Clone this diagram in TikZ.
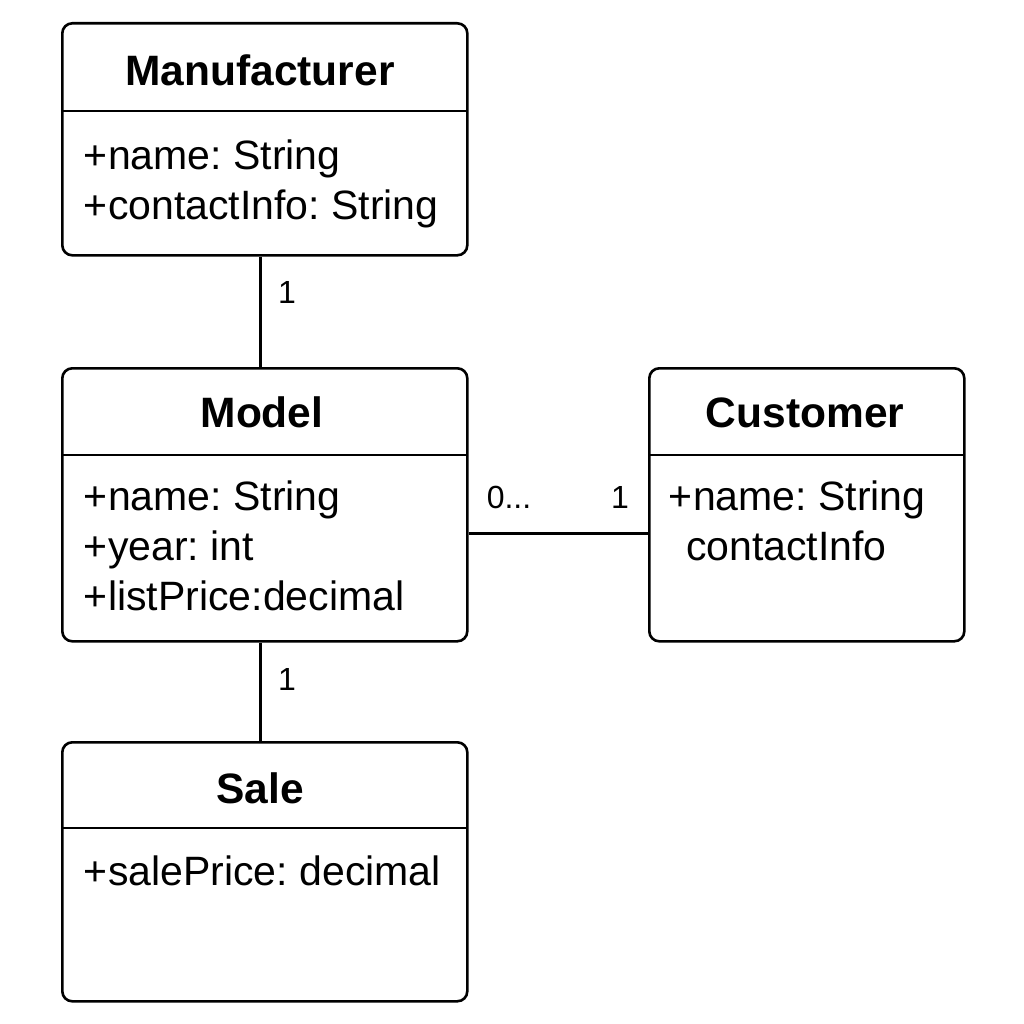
\documentclass[tikz,border=0pt]{standalone}
\usepackage{fontspec}
\setmainfont{Liberation Sans}
\frenchspacing
\begin{document}
\begin{tikzpicture}[x=1pt,y=-1pt,
  box/.style={draw, line width=2.6pt, rounded corners=10pt, inner sep=0pt, anchor=north west},
  divider/.style={line width=2.6pt},
  title/.style={font=\fontsize{42.5}{50}\selectfont\bfseries, anchor=base, inner sep=0pt},
  attr/.style={font=\fontsize{41}{50}\selectfont, anchor=base west, inner sep=0pt},
  mult/.style={font=\fontsize{32}{38}\selectfont, anchor=base, inner sep=0pt},
  conn/.style={line width=2.4pt}]
\useasboundingbox (0,0) rectangle (1024,1024);
\fill[white] (0,0) rectangle (1024,1024);

% Manufacturer
\node[box, minimum width=405pt, minimum height=232pt] (man) at (61,22) {};
\draw[divider] (61,111) -- (466,111);
\node[title] (mant) at (260,86) {Manufacturer};
\node[attr] (mana1) at (83,170) {+\kern1pt name: String};
\node[attr] (mana2) at (83,220) {+\kern1pt contactInfo: String};

% Model
\node[box, minimum width=405pt, minimum height=273pt] (model) at (61,367) {};
\draw[divider] (61,455) -- (466,455);
\node[title] (modelt) at (262,427) {Model};
\node[attr] (modela1) at (83,510) {+\kern1pt name: String};
\node[attr] (modela2) at (83,560) {+\kern1pt year: int};
\node[attr] (modela3) at (83,610) {+\kern1pt listPrice:decimal};

% Customer
\node[box, minimum width=315pt, minimum height=273pt] (cust) at (648,367) {};
\draw[divider] (648,455) -- (963,455);
\node[title] (custt) at (805,427) {Customer};
\node[attr] (custa1) at (668,510) {+\kern1pt name: String};
\node[attr] (custa2) at (686,560) {contactInfo};

% Sale
\node[box, minimum width=405pt, minimum height=259pt] (sale) at (61,741) {};
\draw[divider] (61,828) -- (466,828);
\node[title] (salet) at (260,803) {Sale};
\node[attr] (salea1) at (83,885) {+\kern1pt salePrice: decimal};

% Connectors
\draw[conn] ([xshift=-4.5pt]man.south) -- ([xshift=-4.5pt]model.north);
\draw[conn] ([xshift=-4.5pt]model.south) -- ([xshift=-4.5pt]sale.north);
\draw[conn] ([yshift=-28.5pt]model.east) -- ([yshift=-28.5pt]cust.west);

% Multiplicities
\node[mult] (m1) at (287,303) {1};
\node[mult] (m2) at (287,690) {1};
\node[mult] (m3) at (509,508) {0...};
\node[mult] (m4) at (620,508) {1};
\end{tikzpicture}
\end{document}
